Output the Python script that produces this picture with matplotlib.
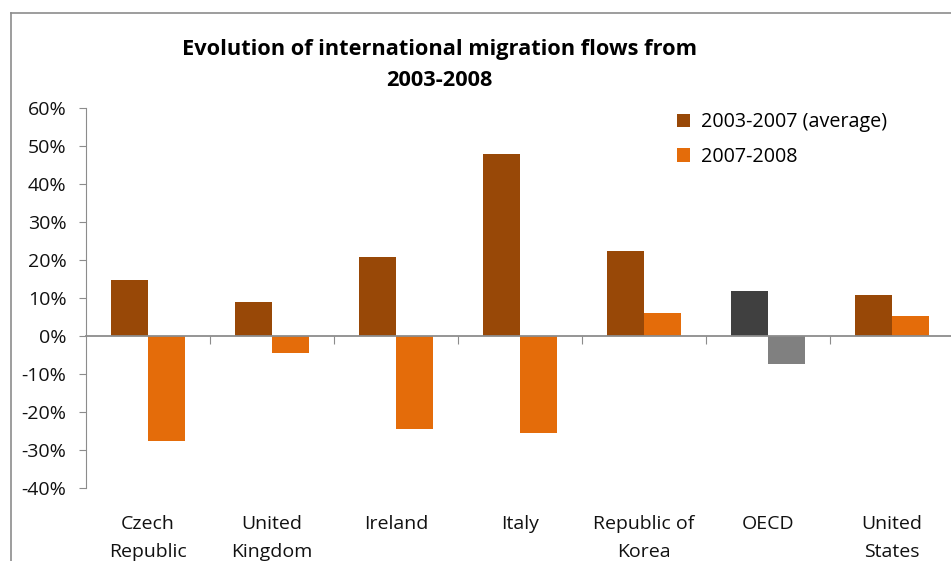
# Evolution of international migration flows 2003-2008

import numpy as np
import matplotlib.pyplot as plt
from matplotlib.lines import Line2D

# data
countries = ["Czech\nRepublic", "United\nKingdom", "Ireland", "Italy",
             "Republic of\nKorea", "OECD", "United\nStates"]
avg_2003_2007 = [14.8, 9.0, 20.8, 48.0, 22.4, 11.9, 10.8]
chg_2007_2008 = [-27.5, -4.4, -24.6, -25.6, 6.1, -7.4, 5.3]
series_labels = ["2003-2007 (average)", "2007-2008"]

brown = "#984807"
orange = "#E46C0A"
dark_gray = "#404040"
light_gray = "#808080"

plt.rcParams["font.family"] = ["Open Sans", "DejaVu Sans"]

fig = plt.figure(figsize=(9.51, 5.61), dpi=100)
ax = fig.add_axes([86 / 951, 1 - 488 / 561, 868 / 951, 380 / 561])

x = np.arange(len(countries))
width = 0.3

colors_a = [dark_gray if c == "OECD" else brown for c in countries]
colors_b = [light_gray if c == "OECD" else orange for c in countries]

ax.bar(x - width / 2, np.array(avg_2003_2007) / 100, width, color=colors_a,
       label=series_labels[0])
ax.bar(x + width / 2, np.array(chg_2007_2008) / 100, width, color=colors_b,
       label=series_labels[1])

ax.set_xlim(-0.5, len(countries) - 0.5)
ax.set_ylim(-0.4, 0.6)
ax.set_yticks(np.arange(-0.4, 0.61, 0.1))
ax.set_yticklabels([f"{v:.0f}%" for v in np.arange(-40, 61, 10)])

# axis styling
for side in ["top", "right"]:
    ax.spines[side].set_visible(False)
ax.spines["left"].set_color("#8c8c8c")
ax.spines["bottom"].set_position(("data", 0))
ax.spines["bottom"].set_color("#8c8c8c")
ax.spines["bottom"].set_linewidth(1.3)
ax.set_xticks(np.arange(0.5, len(countries) - 0.5, 1))
ax.set_xticklabels([])
ax.tick_params(axis="x", direction="out", length=6, color="#8c8c8c")
ax.tick_params(axis="y", direction="out", length=5, color="#8c8c8c",
               labelsize=14, pad=9, labelcolor="#111111")

# category labels under the plot
for i, name in enumerate(countries):
    ax.text(i, -0.47, name, ha="center", va="top", fontsize=14,
            linespacing=1.75, color="#111111", transform=ax.transData,
            clip_on=False)

# title
fig.text(439 / 951, 1 - 65 / 561,
         "Evolution of international migration flows from\n2003-2008",
         ha="center", va="center", fontsize=15.7, fontweight="bold",
         linespacing=1.6)

# legend
leg = ax.legend(loc="upper left", bbox_to_anchor=(0.66, 1.035), frameon=False,
                fontsize=14.2, handlelength=0.7, handleheight=0.7,
                handletextpad=0.55, labelspacing=0.75)

# outer chart frame
fig.add_artist(Line2D([11 / 951, 11 / 951], [0, 1 - 13 / 561],
                      color="#8c8c8c", lw=1.2, transform=fig.transFigure))
fig.add_artist(Line2D([11 / 951, 1], [1 - 13 / 561, 1 - 13 / 561],
                      color="#8c8c8c", lw=1.2, transform=fig.transFigure))

fig.savefig("out.png", dpi=100)
